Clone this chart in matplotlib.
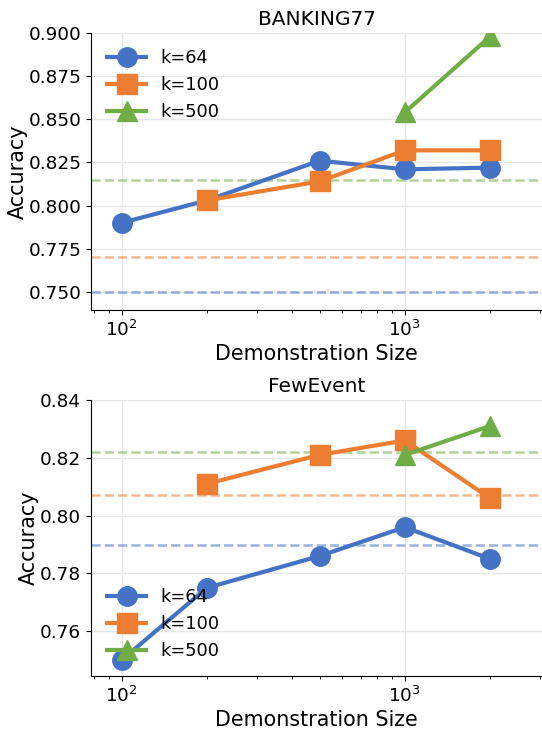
import matplotlib.pyplot as plt

# Data
sizes = [100, 200, 500, 1000, 2000]

bank_k64 = [0.790, 0.803, 0.826, 0.821, 0.822]
bank_k100_x = [200, 500, 1000, 2000]
bank_k100 = [0.803, 0.814, 0.832, 0.832]
bank_k500_x = [1000, 2000]
bank_k500 = [0.854, 0.898]
bank_base = [0.750, 0.770, 0.815]

few_k64 = [0.750, 0.775, 0.786, 0.796, 0.785]
few_k100_x = [200, 500, 1000, 2000]
few_k100 = [0.811, 0.821, 0.826, 0.806]
few_k500_x = [1000, 2000]
few_k500 = [0.821, 0.831]
few_base = [0.790, 0.807, 0.822]

labels = ['k=64', 'k=100', 'k=500']
colors = ['#4472C4', '#ED7D31', '#70AD47']
markers = ['o', 's', '^']

fig = plt.figure(figsize=(5.42, 7.31), dpi=100)
ax1 = fig.add_axes([91/542, 1 - 310/731, 451/542, 277/731])
ax2 = fig.add_axes([91/542, 1 - 676/731, 451/542, 276/731])


def draw(ax, title, series, base, ylim, yticks, yfmt, legend_loc):
    for (x, y), lab, c, m in zip(series, labels, colors, markers):
        ax.plot(x, y, marker=m, color=c, label=lab, linewidth=3, markersize=14)
    for b, c in zip(base, colors):
        ax.axhline(b, color=c, linestyle='--', linewidth=1.8, alpha=0.55, zorder=1)
    ax.set_xscale('log')
    ax.set_xlim(78, 3050)
    ax.set_ylim(*ylim)
    ax.set_yticks(yticks)
    ax.set_yticklabels([yfmt.format(v) for v in yticks])
    ax.grid(True, color='#e6e6e6', linewidth=1)
    ax.set_axisbelow(True)
    ax.spines['top'].set_visible(False)
    ax.spines['right'].set_visible(False)
    ax.tick_params(labelsize=13.3)
    ax.set_title(title, fontsize=14.5, pad=6)
    ax.set_xlabel('Demonstration Size', fontsize=14.9, labelpad=3)
    ax.set_ylabel('Accuracy', fontsize=14.9, labelpad=0.5)
    ax.legend(loc=legend_loc, frameon=False, fontsize=12.8, handlelength=2.2)


draw(ax1, 'BANKING77',
     [(sizes, bank_k64), (bank_k100_x, bank_k100), (bank_k500_x, bank_k500)],
     bank_base, (0.7395, 0.900),
     [0.750, 0.775, 0.800, 0.825, 0.850, 0.875, 0.900], '{:.3f}', 'upper left')

draw(ax2, 'FewEvent',
     [(sizes, few_k64), (few_k100_x, few_k100), (few_k500_x, few_k500)],
     few_base, (0.7445, 0.840),
     [0.76, 0.78, 0.80, 0.82, 0.84], '{:.2f}', 'lower left')

fig.savefig('out.png', dpi=100)
